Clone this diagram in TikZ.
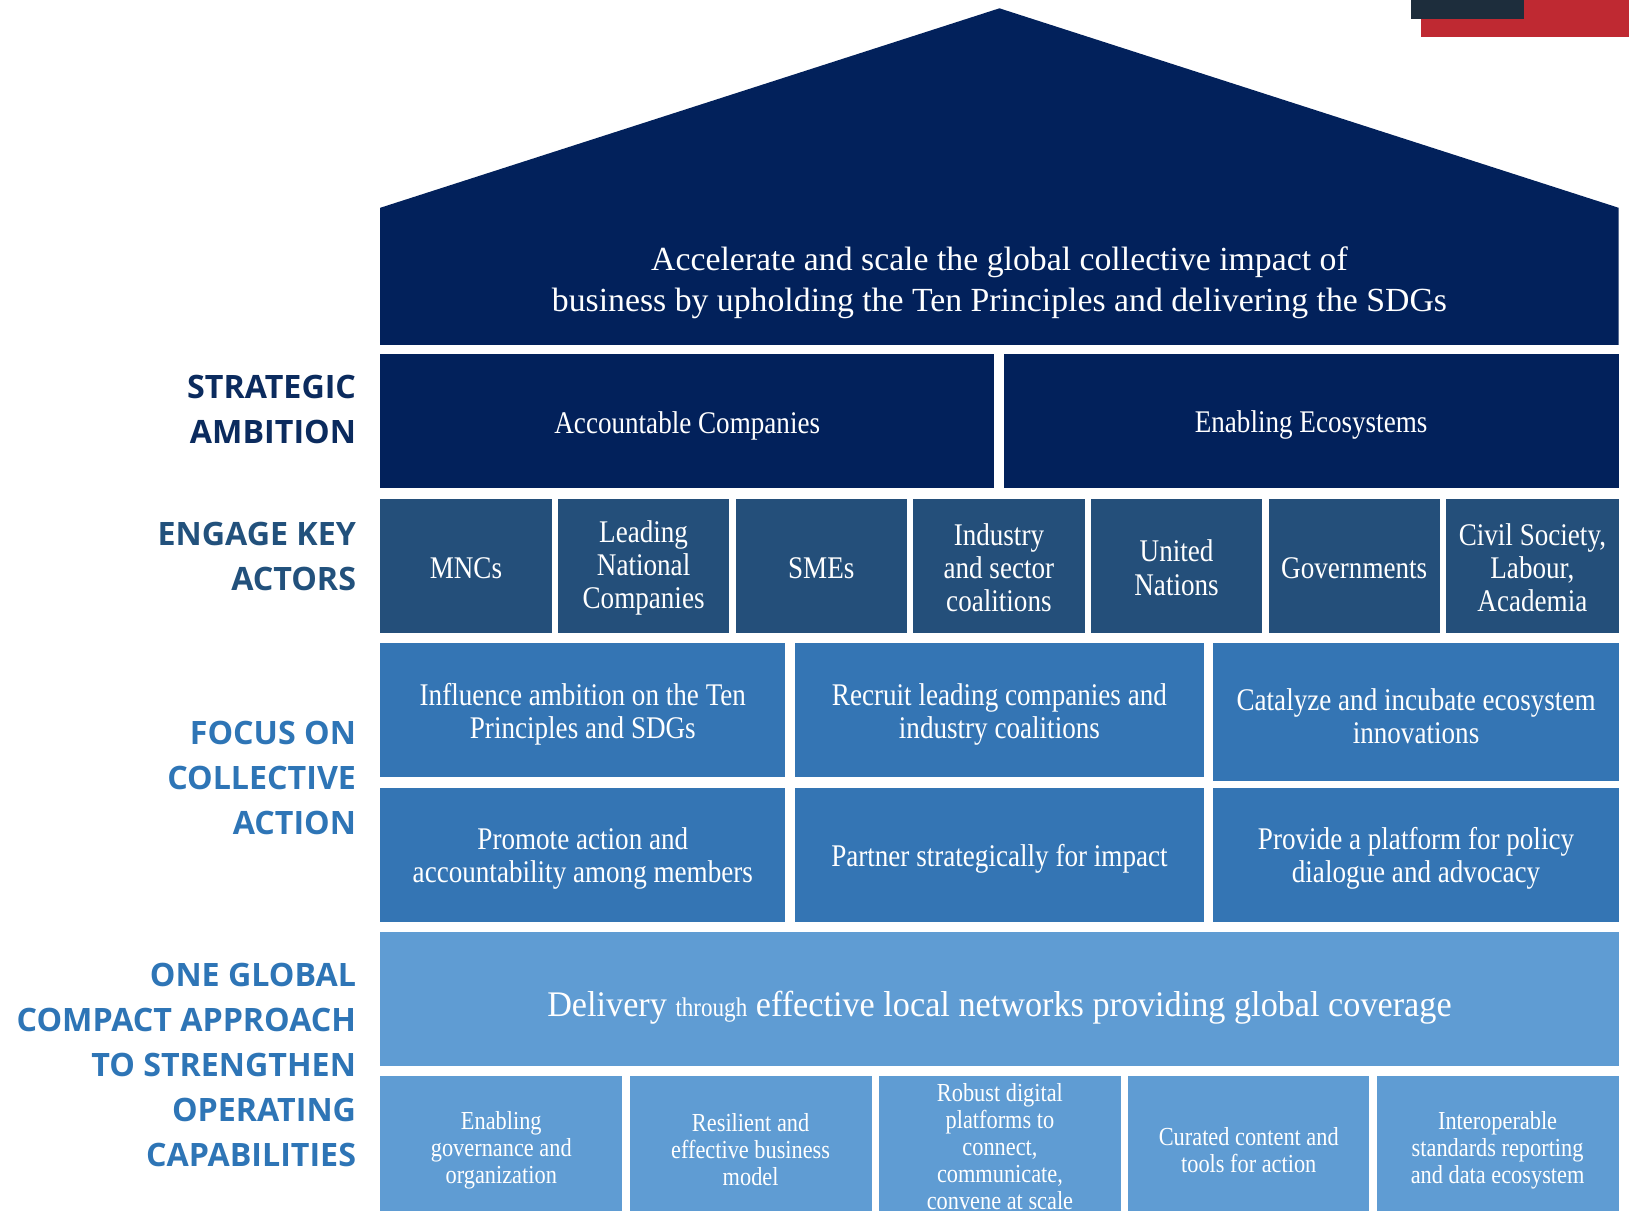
\documentclass[tikz,border=0pt]{standalone}
\usepackage{fontspec}
\setmainfont{Liberation Serif}
\newfontfamily\cond[FakeStretch=0.86]{Liberation Serif}
\newfontfamily\condD[FakeStretch=0.95]{Liberation Serif}
\newfontfamily\labfont{Open Sans}
\usetikzlibrary{fit}
\definecolor{navy}{HTML}{02215B}
\definecolor{actor}{HTML}{244F7A}
\definecolor{focus}{HTML}{3475B4}
\definecolor{deliv}{HTML}{5F9CD3}
\definecolor{labA}{HTML}{0B2B5E}
\definecolor{labB}{HTML}{22517C}
\definecolor{labC}{HTML}{2E75B6}
\definecolor{darkrect}{HTML}{1D2D3C}
\definecolor{redrect}{HTML}{BF2932}
\tikzset{
  blk/.style={fill=#1, inner sep=0pt},
  txt/.style={text=white, align=center, inner sep=0pt, yshift=-2.4pt},
  midtxt/.style={txt, font=\cond\fontsize{18.2pt}{19.2pt}\selectfont},
  acttxt/.style={txt, yshift=1.2pt, font=\cond\fontsize{18.2pt}{19.2pt}\selectfont},
  smalltxt/.style={txt, font=\cond\fontsize{15pt}{15.6pt}\selectfont},
  sidelab/.style={anchor=east, inner sep=0pt, align=right, text=#1,
    font=\labfont\bfseries\fontsize{18.6pt}{26pt}\selectfont}
}
\begin{document}
\begin{tikzpicture}[x=0.6pt,y=-0.6pt]
\clip (0,0) rectangle (1568,1165);
\fill[white] (0,0) rectangle (1568,1165);
% corner marks
\fill[redrect] (1368,0) rectangle (1568,36);
\fill[darkrect] (1358,0) rectangle (1467,18);
% roof / title
\fill[navy] (366,332) -- (366,200) -- (962,8) -- (1558,200) -- (1558,332) -- cycle;
\node[txt, font=\fontsize{19.5pt}{24pt}\selectfont] (title) at (962,268)
  {Accelerate and scale the global collective impact of\\business by upholding the Ten Principles and delivering the SDGs};
% strategic ambition row
\node[blk=navy, fit={(366,341)(957,470)}] (acc) {};
\node[midtxt] (acc-t) at (acc) {Accountable Companies};
\node[blk=navy, fit={(966,341)(1558,470)}] (eco) {};
\node[midtxt] (eco-t) at (eco) {Enabling Ecosystems};
% actors row
\node[blk=actor, fit={(366,480)(531,609)}] (mnc) {};
\node[acttxt] (mnc-t) at (mnc) {MNCs};
\node[blk=actor, fit={(537,480)(702,609)}] (lnc) {};
\node[acttxt] (lnc-t) at (lnc) {Leading\\National\\Companies};
\node[blk=actor, fit={(708,480)(873,609)}] (sme) {};
\node[acttxt] (sme-t) at (sme) {SMEs};
\node[blk=actor, fit={(879,480)(1044,609)}] (ind) {};
\node[acttxt] (ind-t) at (ind) {Industry\\and sector\\coalitions};
\node[blk=actor, fit={(1050,480)(1215,609)}] (un) {};
\node[acttxt] (un-t) at (un) {United\\Nations};
\node[blk=actor, fit={(1221,480)(1386,609)}] (gov) {};
\node[acttxt] (gov-t) at (gov) {Governments};
\node[blk=actor, fit={(1392,480)(1558,609)}] (civ) {};
\node[acttxt] (civ-t) at (civ) {Civil Society,\\Labour,\\Academia};
% focus rows
\node[blk=focus, fit={(366,619)(756,748)}] (infl) {};
\node[midtxt] (infl-t) at (infl) {Influence ambition on the Ten\\Principles and SDGs};
\node[blk=focus, fit={(765,619)(1159,748)}] (recr) {};
\node[midtxt] (recr-t) at (recr) {Recruit leading companies and\\industry coalitions};
\node[blk=focus, fit={(1168,619)(1558,752)}] (cata) {};
\node[midtxt] (cata-t) at (cata) {Catalyze and incubate ecosystem\\innovations};
\node[blk=focus, fit={(366,758)(756,887)}] (prom) {};
\node[midtxt] (prom-t) at (prom) {Promote action and\\accountability among members};
\node[blk=focus, fit={(765,758)(1159,887)}] (part) {};
\node[midtxt] (part-t) at (part) {Partner strategically for impact};
\node[blk=focus, fit={(1168,758)(1558,887)}] (prov) {};
\node[midtxt] (prov-t) at (prov) {Provide a platform for policy\\dialogue and advocacy};
% delivery
\node[blk=deliv, fit={(366,897)(1558,1026)}] (deli) {};
\node[txt, font=\condD\fontsize{20.8pt}{22pt}\selectfont] (deli-t) at (962,966)
  {Delivery {\cond\fontsize{15.5pt}{16pt}\selectfont through} effective local networks providing global coverage};
% capabilities row
\node[blk=deliv, fit={(366,1036)(599,1170)}] (gvn) {};
\node[smalltxt] (gvn-t) at (gvn) {Enabling\\governance and\\organization};
\node[blk=deliv, fit={(606,1036)(839,1170)}] (bus) {};
\node[smalltxt] (bus-t) at (bus) {Resilient and\\effective business\\model};
\node[blk=deliv, fit={(846,1036)(1079,1170)}] (dig) {};
\node[smalltxt, yshift=2pt] (dig-t) at (dig) {Robust digital\\platforms to\\connect,\\communicate,\\convene at scale};
\node[blk=deliv, fit={(1086,1036)(1318,1170)}] (cur) {};
\node[smalltxt] (cur-t) at (cur) {Curated content and\\tools for action};
\node[blk=deliv, fit={(1325,1036)(1558,1170)}] (std) {};
\node[smalltxt] (std-t) at (std) {Interoperable\\standards reporting\\and data ecosystem};
% side labels
\node[sidelab=labA] (lab1) at (343,394) {STRATEGIC\\AMBITION};
\node[sidelab=labB] (lab2) at (343,536) {ENGAGE KEY\\ACTORS};
\node[sidelab=labC] (lab3) at (343,749) {FOCUS ON\\COLLECTIVE\\ACTION};
\node[sidelab=labC] (lab4) at (343,1025) {ONE GLOBAL\\COMPACT APPROACH\\TO STRENGTHEN\\OPERATING\\CAPABILITIES};
\end{tikzpicture}
\end{document}
